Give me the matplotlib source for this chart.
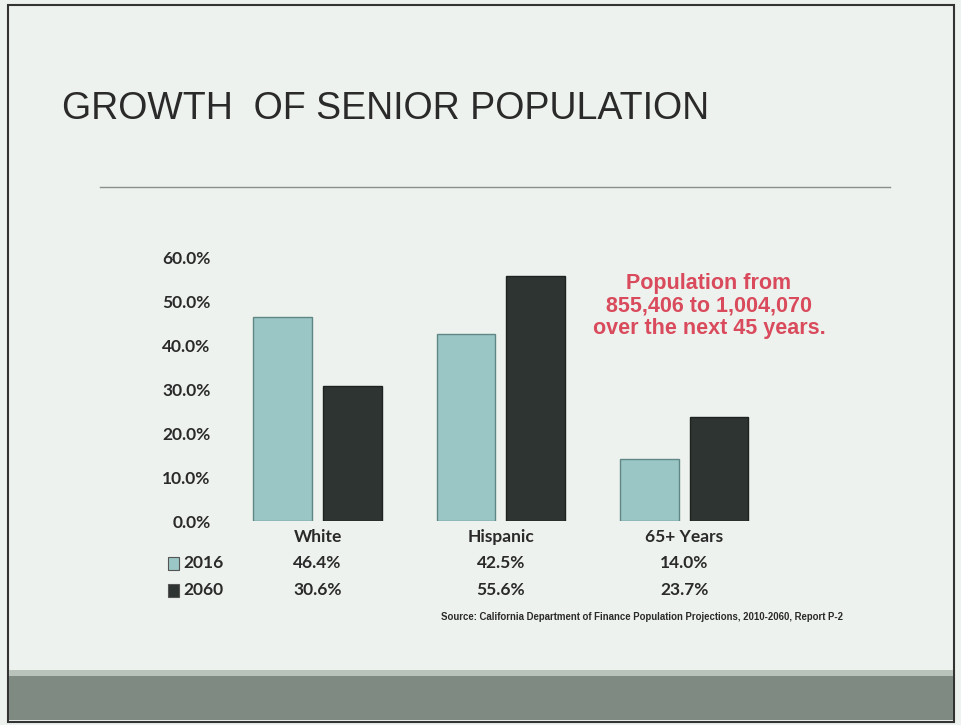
import matplotlib.pyplot as plt
import matplotlib.patches as mpatches
import matplotlib.transforms as mtransforms
import numpy as np

categories = ['White', 'Hispanic', '65+ Years']
years = ['2016', '2060']
share_2016 = [46.4, 42.5, 14.0]
share_2060 = [30.6, 55.6, 23.7]
y_ticks = [0, 10, 20, 30, 40, 50, 60]

bg = '#eef2ee'
c_2016 = '#9ac6c5'
c_2060 = '#2e3431'
txt = '#2a2a2a'

fig = plt.figure(figsize=(9.62, 7.25), dpi=100)
fig.patch.set_facecolor(bg)

W, H = 962.0, 725.0

def fx(px):
    return px / W

def fy(py):
    return 1 - py / H

# slide frame and bottom band
fig.patches.append(mpatches.Rectangle((fx(8), fy(722)), fx(954) - fx(8), fy(5) - fy(722),
                                      transform=fig.transFigure, fill=False,
                                      edgecolor='#333333', linewidth=1.5))
fig.patches.append(mpatches.Rectangle((fx(9), fy(720)), fx(953) - fx(9), fy(676) - fy(720),
                                      transform=fig.transFigure, facecolor='#7f8b82',
                                      edgecolor='none'))
fig.patches.append(mpatches.Rectangle((fx(9), fy(676)), fx(953) - fx(9), fy(670) - fy(676),
                                      transform=fig.transFigure, facecolor='#b9c3bb',
                                      edgecolor='none'))

# title and rule
fig.text(fx(62), fy(109), 'GROWTH  OF SENIOR POPULATION', fontsize=27,
         family='Liberation Sans', color=txt, va='center', ha='left')
fig.add_artist(plt.Line2D([fx(100), fx(890)], [fy(187), fy(187)],
                          transform=fig.transFigure, color='#8a8f8b', linewidth=1))

# chart
ax = fig.add_axes([fx(226), fy(521), fx(776) - fx(226), fy(257) - fy(521)])
ax.set_facecolor('none')
x = np.arange(len(categories))
w = 0.32
ax.bar(x - w / 2 - 0.03, share_2016, width=w, color=c_2016, edgecolor='#5f8785', linewidth=1)
ax.bar(x + w / 2 + 0.03, share_2060, width=w, color=c_2060, edgecolor='#1e2220', linewidth=1)
ax.set_xlim(-0.5, 2.5)
ax.set_ylim(0, 60)
ax.set_yticks(y_ticks)
ax.set_yticklabels(['%.1f%%' % t for t in y_ticks], fontsize=12.5, family='Lato',
                   fontweight='bold', color=txt)
ax.set_xticks([])
ax.tick_params(axis='y', length=0, pad=11)
for s in ax.spines.values():
    s.set_visible(False)

# data table under the chart
trans = mtransforms.blended_transform_factory(ax.transData, fig.transFigure)
row_y = [537, 563, 590]
for i, cat in enumerate(categories):
    ax.text(x[i], fy(row_y[0]), cat, transform=trans, ha='center', va='center',
            fontsize=12.5, family='Lato', fontweight='bold', color=txt)
for r, (yr, vals, col) in enumerate(zip(years, [share_2016, share_2060], [c_2016, c_2060])):
    yy = fy(row_y[r + 1])
    for i, v in enumerate(vals):
        ax.text(x[i], yy, '%.1f%%' % v, transform=trans, ha='center', va='center',
                fontsize=12.5, family='Lato', fontweight='bold', color=txt)
    fig.patches.append(mpatches.Rectangle((fx(168), yy - 6.5 / H), 11 / W, 13 / H,
                                          transform=fig.transFigure, facecolor=col,
                                          edgecolor='#555555', linewidth=0.8))
    fig.text(fx(183), yy, yr, ha='left', va='center', fontsize=12.5, family='Lato',
             fontweight='bold', color=txt)

# callout
fig.text(fx(709), fy(306), 'Population from\n855,406 to 1,004,070\nover the next 45 years.',
         ha='center', va='center', fontsize=15.5, family='Liberation Sans', fontweight='bold',
         color='#d94b5c', linespacing=1.12)

fig.text(fx(642), fy(617), 'Source: California Department of Finance Population Projections, 2010-2060, Report P-2',
         ha='center', va='center', fontsize=6.9, family='Liberation Sans', fontweight='bold',
         color=txt)

fig.savefig('out.png', dpi=100, facecolor=fig.get_facecolor())
